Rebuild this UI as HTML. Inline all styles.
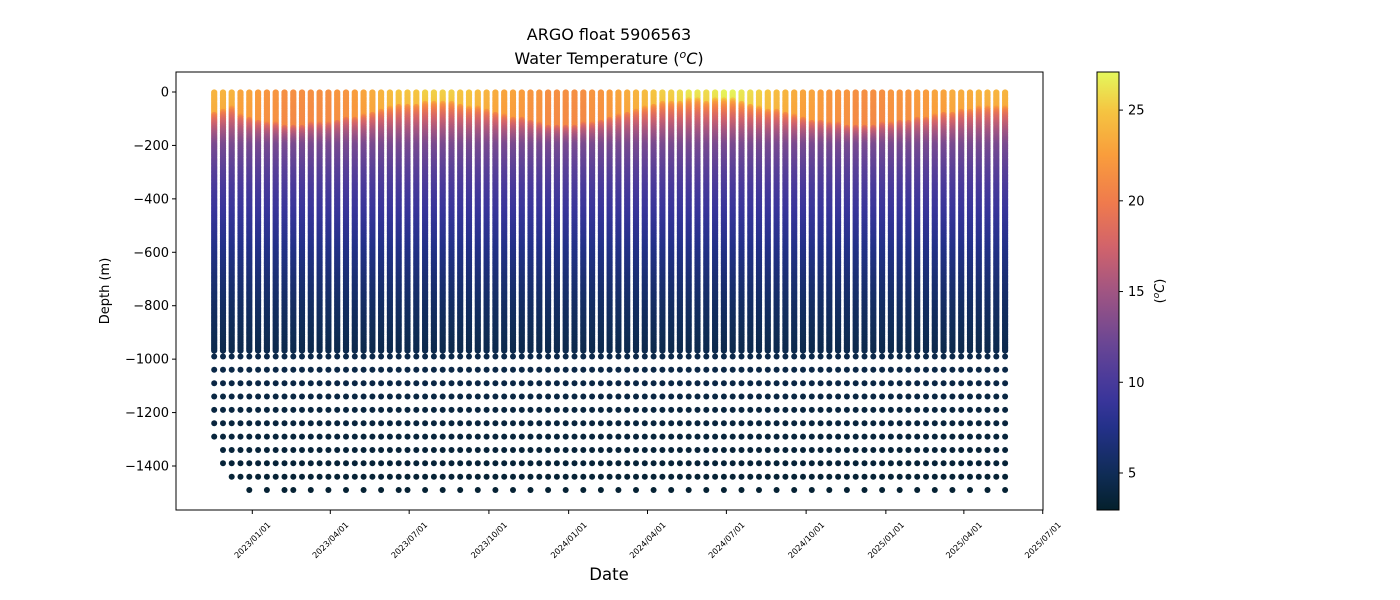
<!DOCTYPE html>
<html><head><meta charset="utf-8">
<style>
body{margin:0;background:#fff;}
svg{display:block;font-family:"DejaVu Sans","Liberation Sans",sans-serif;}
</style></head>
<body>
<svg id="fig" width="1400" height="600" viewBox="0 0 1400 600">
  <defs>
    <linearGradient id="cbgrad" x1="0" y1="1" x2="0" y2="0">
      <stop offset="0" stop-color="#04202c"/>
      <stop offset="0.08" stop-color="#0f2c55"/>
      <stop offset="0.19" stop-color="#24318a"/>
      <stop offset="0.25" stop-color="#39359a"/>
      <stop offset="0.30" stop-color="#4b3b9a"/>
      <stop offset="0.38" stop-color="#6a4694"/>
      <stop offset="0.50" stop-color="#a15582"/>
      <stop offset="0.60" stop-color="#d1636b"/>
      <stop offset="0.70" stop-color="#ef7a4d"/>
      <stop offset="0.81" stop-color="#f99d3c"/>
      <stop offset="0.91" stop-color="#f5c441"/>
      <stop offset="1" stop-color="#e4f85c"/>
    </linearGradient>
  </defs>
  <text x="609" y="40" text-anchor="middle" font-size="16" fill="#000">ARGO float 5906563</text>
  <text x="609" y="64" text-anchor="middle" font-size="16" fill="#000">Water Temperature (<tspan font-style="italic" font-size="11" dy="-6">o</tspan><tspan font-style="italic" dy="6">C</tspan>)</text>
  <g id="marks"></g>
  <rect x="176" y="72" width="867" height="438" fill="none" stroke="#000" stroke-width="1"/>
  <g id="yaxis"></g>
  <g id="xaxis"></g>
  <text transform="translate(109,291) rotate(-90)" text-anchor="middle" font-size="13">Depth (m)</text>
  <text x="609" y="580" text-anchor="middle" font-size="16.5">Date</text>
  <rect x="1097" y="72" width="22" height="438" fill="url(#cbgrad)" stroke="#000" stroke-width="1"/>
  <g id="cbaxis"></g>
  <text transform="translate(1164,291) rotate(-90)" text-anchor="middle" font-size="13">(<tspan font-style="italic" font-size="9" dy="-5">o</tspan><tspan font-style="italic" dy="5">C</tspan>)</text>
</svg>
<script>
// ---- data ----
const startDate = "2022-11-18";
const cycleDays = 10.14;
const surfaceTemp = [24,24,24,23,23,22.5,22,22,21.5,21.5,21.5,21.5,21.5,21.5,22,22,22.5,23,23.5,24,24.5,25,25,25,25.5,25.5,25.5,25.5,25,25,24.5,24,23.5,23,23,22.5,22,22,21.5,21.5,21.5,21.5,21.5,22,22,22.5,23,23.5,24,24.5,25,25.5,25.5,26,26.5,26.5,26,26.5,27,27,26.5,26,25.5,25,24.5,24,23.5,23,23,22.5,22,22,22,21.5,21.5,21.5,21.5,22,22,22,22.5,22.5,23,23,23.5,23.5,23.5,24,24,24,24];
const mixedDepth = [80,70,60,90,100,110,120,120,130,130,130,120,120,120,110,100,100,90,80,70,60,50,50,50,40,40,40,40,50,60,60,70,80,90,100,100,110,120,130,130,130,130,120,120,110,100,90,80,70,60,50,40,40,40,30,30,40,30,30,30,40,50,60,70,70,80,90,100,110,110,120,120,130,130,130,130,120,120,110,110,100,100,90,80,80,70,70,60,60,60,60];
const maxDepth = [1290,1390,1440,1440,1490,1440,1490,1440,1490,1490,1440,1490,1440,1490,1440,1490,1440,1490,1440,1490,1440,1490,1490,1440,1490,1440,1490,1440,1490,1440,1490,1440,1490,1440,1490,1440,1490,1440,1490,1440,1490,1440,1490,1440,1490,1440,1490,1440,1490,1440,1490,1440,1490,1440,1490,1440,1490,1440,1490,1440,1490,1440,1490,1440,1490,1440,1490,1440,1490,1440,1490,1440,1490,1440,1490,1440,1490,1440,1490,1440,1490,1440,1490,1440,1490,1440,1490,1440,1490,1440,1490];
const refDepths = [200,300,400,600,800,1000,1500];
const refTemps = [13,11,9.5,7.3,5.6,4.3,3.3];
const yTicks = [0,-200,-400,-600,-800,-1000,-1200,-1400];
const xTickLabels = ["2023/01/01","2023/04/01","2023/07/01","2023/10/01","2024/01/01","2024/04/01","2024/07/01","2024/10/01","2025/01/01","2025/04/01","2025/07/01"];
const cbTicks = [5,10,15,20,25];
const tMin = 2.96, tMax = 27.1;

// ---- scales ----
const NS="http://www.w3.org/2000/svg";
const day0 = Date.UTC(2023,0,1);
function dateOf(s){const p=s.split(/[\/-]/).map(Number);return Date.UTC(p[0],p[1]-1,p[2]);}
function xScale(ms){return 252.3 + (ms-day0)/86400000*0.8667;}
function yScale(depthNeg){return 92 - depthNeg*0.26714;}
function cbY(t){return 510 - (t-tMin)/(tMax-tMin)*438;}
const cstops=[[0,[4,32,44]],[0.08,[15,44,85]],[0.19,[36,49,138]],[0.25,[57,53,154]],[0.30,[75,59,154]],[0.38,[106,70,148]],[0.5,[161,85,130]],[0.6,[209,99,107]],[0.7,[239,122,77]],[0.81,[249,157,60]],[0.91,[245,196,65]],[1,[228,248,92]]];
function color(T){let t=Math.max(0,Math.min(1,(T-tMin)/(tMax-tMin)));
  for(let i=1;i<cstops.length;i++){if(t<=cstops[i][0]){const a=cstops[i-1],b=cstops[i],f=(t-a[0])/(b[0]-a[0]);
    return "rgb("+a[1].map((v,k)=>Math.round(v+(b[1][k]-v)*f)).join(",")+")";}}
  return "rgb(228,248,92)";}
function tempAt(z,ts,mld){
  if(z<=mld) return ts - 0.5*z/Math.max(mld,1);
  if(z<=refDepths[0]){const f=(z-mld)/(refDepths[0]-mld);return (ts-0.5)+(refTemps[0]-(ts-0.5))*Math.sqrt(f);}
  for(let i=1;i<refDepths.length;i++){if(z<=refDepths[i]){const f=(z-refDepths[i-1])/(refDepths[i]-refDepths[i-1]);return refTemps[i-1]+(refTemps[i]-refTemps[i-1])*f;}}
  return refTemps[refTemps.length-1];}

// ---- marks ----
const marks=document.getElementById("marks");
const s0=dateOf(startDate);
for(let p=0;p<surfaceTemp.length;p++){
  const x=xScale(s0+p*cycleDays*86400000);
  const g=document.createElementNS(NS,"g");
  
  
  for(let z=2;z<=972;z+=6){
    const c=document.createElementNS(NS,"circle");
    c.setAttribute("cx",x.toFixed(1));c.setAttribute("cy",yScale(-z).toFixed(1));c.setAttribute("r","3.1");
    c.setAttribute("fill",color(tempAt(z,surfaceTemp[p],mixedDepth[p])));
    g.appendChild(c);
  }
  for(let z=990;z<=maxDepth[p];z+=50){
    const c=document.createElementNS(NS,"circle");
    
    
    c.setAttribute("cx",x.toFixed(1));c.setAttribute("cy",yScale(-z).toFixed(1));c.setAttribute("r","3");
    c.setAttribute("fill",color(tempAt(z,surfaceTemp[p],mixedDepth[p])));
    g.appendChild(c);
  }
  marks.appendChild(g);
}
// ---- axes ----
const ya=document.getElementById("yaxis");
yTicks.forEach(v=>{const y=yScale(v);
  const l=document.createElementNS(NS,"line");l.setAttribute("x1",172);l.setAttribute("x2",176);l.setAttribute("y1",y);l.setAttribute("y2",y);l.setAttribute("stroke","#000");
  
  
  ya.appendChild(l);
  const t=document.createElementNS(NS,"text");t.setAttribute("x",169);t.setAttribute("y",y+4.5);t.setAttribute("text-anchor","end");t.setAttribute("font-size","13");
  
  
  t.textContent=v===0?"0":"\u2212"+Math.abs(v);ya.appendChild(t);});
const xa=document.getElementById("xaxis");
xTickLabels.forEach(s=>{const x=xScale(dateOf(s));
  const l=document.createElementNS(NS,"line");l.setAttribute("x1",x);l.setAttribute("x2",x);l.setAttribute("y1",510);l.setAttribute("y2",514);l.setAttribute("stroke","#000");
  
  
  xa.appendChild(l);
  const t=document.createElementNS(NS,"text");t.setAttribute("transform","translate("+x+",540) rotate(-45)");t.setAttribute("text-anchor","middle");t.setAttribute("dy","3");t.setAttribute("font-size","8.2");
  
  
  t.textContent=s;xa.appendChild(t);});
const cb=document.getElementById("cbaxis");
cbTicks.forEach(v=>{const y=cbY(v);
  const l=document.createElementNS(NS,"line");l.setAttribute("x1",1119);l.setAttribute("x2",1123);l.setAttribute("y1",y);l.setAttribute("y2",y);l.setAttribute("stroke","#000");
  
  
  cb.appendChild(l);
  const t=document.createElementNS(NS,"text");t.setAttribute("x",1128);t.setAttribute("y",y+4.5);t.setAttribute("font-size","13");
  
  
  t.textContent=v;cb.appendChild(t);});
</script>
</body></html>
